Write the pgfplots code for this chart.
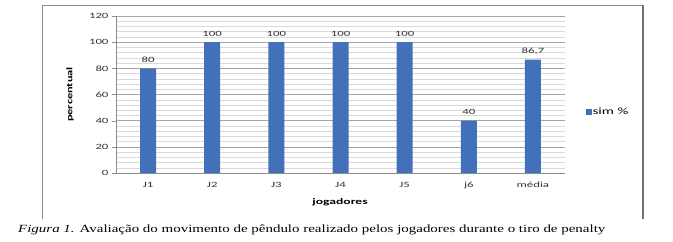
\documentclass[border=0pt]{standalone}
\usepackage{fontspec}
\setmainfont{Liberation Serif}[FakeStretch=1.36]
\newfontfamily\chartfont{Carlito}[FakeStretch=1.45]
\newfontfamily\tickfont{Carlito}[FakeStretch=1.6]
\usepackage{pgfplots}
\pgfplotsset{compat=1.18}
\definecolor{barblue}{RGB}{66,112,185}
\begin{document}
\begin{tikzpicture}
\path[use as bounding box] (0,0) rectangle (673bp,242bp);
\fill[white] (0,0) rectangle (673bp,242bp);
\begin{axis}[
  at={(116bp,69bp)}, anchor=south west,
  scale only axis, width=449bp, height=157bp,
  ybar, bar width=16bp,
  xmin=-0.5, xmax=6.5, ymin=0, ymax=120,
  xtick={0,...,6}, xticklabels={J1,J2,J3,J4,J5,j6,média},
  ytick={0,20,...,120}, minor y tick num=4,
  ymajorgrids, yminorgrids,
  major grid style={draw=black!35}, minor grid style={draw=black!15},
  axis lines*=left, axis line style={draw=black!45},
  x tick style={draw=none}, y tick style={draw=black!45}, minor tick length=0pt,
  tick align=outside, major tick length=4bp,
  /pgf/number format/assume math mode=true,
  ticklabel style={font=\tickfont\fontsize{8bp}{9bp}\selectfont, text=black!80},
  xticklabel style={yshift=-1.5bp},
  xlabel={jogadores}, ylabel={percentual},
  xlabel style={font=\tickfont\bfseries\fontsize{8.5bp}{10bp}\selectfont, at={(axis description cs:0.499,-0.185)}, anchor=center},
  ylabel style={font=\chartfont\bfseries\fontsize{8.5bp}{10bp}\selectfont, at={(axis description cs:-0.1024,0.5)}, anchor=center},
  point meta=explicit symbolic,
  nodes near coords,
  nodes near coords style={font=\tickfont\fontsize{8bp}{9bp}\selectfont, text=black!80, anchor=base, yshift=6bp},
  legend style={at={(axis description cs:1.047,0.389)}, anchor=west, draw=none, fill=none, inner sep=0pt,
    font=\tickfont\fontsize{9.5bp}{11bp}\selectfont, nodes={inner sep=0.6bp}},
  legend image code/.code={\fill[barblue] (0bp,-2.8bp) rectangle (5.6bp,2.8bp);},
]
\addplot[fill=barblue, draw=none] coordinates {
  (0,80) [80]
  (1,100) [100]
  (2,100) [100]
  (3,100) [100]
  (4,100) [100]
  (5,40) [40]
  (6,86.7) [{86,7}]
};
\legend{sim \%}
\end{axis}
\draw[black!45, line width=0.8bp] (42bp,23bp) -- (42bp,237bp) -- (643bp,237bp);
\draw[black!55, line width=2.5bp] (643bp,237bp) -- (643bp,23bp);
\node[anchor=base west, inner sep=0pt] at (18bp,10bp) {\fontsize{11bp}{13bp}\selectfont\textit{Figura 1.} Avaliação do movimento de pêndulo realizado pelos jogadores durante o tiro de penalty};
\end{tikzpicture}
\end{document}
